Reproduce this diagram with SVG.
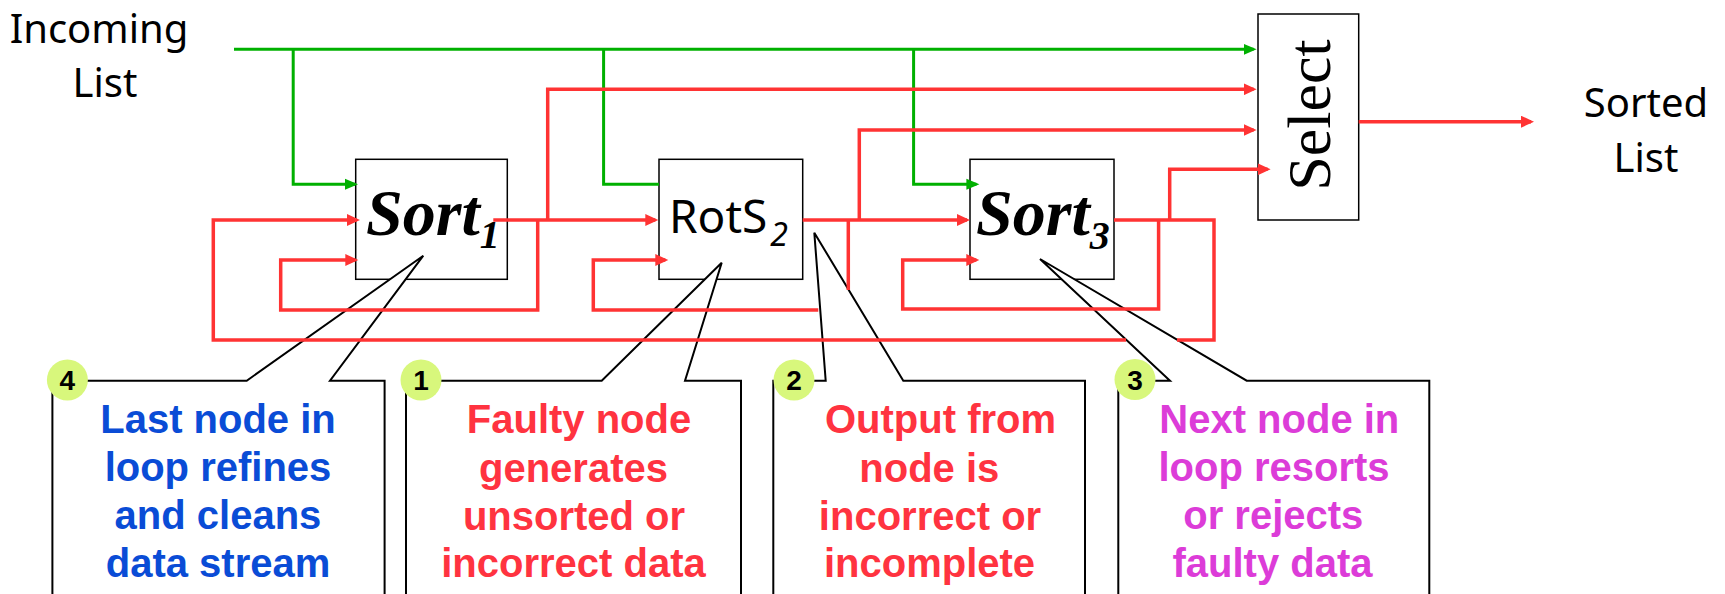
<svg xmlns="http://www.w3.org/2000/svg" width="1725" height="594" viewBox="0 0 1725 594">
  <defs>
    <marker id="arrowRed" markerUnits="userSpaceOnUse" markerWidth="14" markerHeight="12" refX="10" refY="6" orient="auto">
      <path d="M0,0 L13,6 L0,12 z" fill="#ff3333"/>
    </marker>
    <marker id="arrowGreen" markerUnits="userSpaceOnUse" markerWidth="14" markerHeight="12" refX="10" refY="6" orient="auto">
      <path d="M0,0.5 L13,6 L0,11.5 z" fill="#00b000"/>
    </marker>
    <style>
      .box { fill: #ffffff; stroke: #000000; stroke-width: 1.5; }
      .hand { font-family: "Noto Sans", "DejaVu Sans", sans-serif; font-size: 40px; fill: #000000; }
      .sortlbl { font-family: "Liberation Serif", "Times New Roman", serif; font-weight: bold; font-style: italic; font-size: 66px; fill: #000000; }
      .rotlbl { font-family: "Noto Sans", "Open Sans", sans-serif; font-size: 46px; fill: #000000; }
      .sellbl { font-family: "Liberation Serif", "Times New Roman", serif; font-size: 62px; fill: #000000; }
      .callout { fill: #ffffff; stroke: #000000; stroke-width: 2; stroke-linejoin: miter; }
      .note { font-family: "Liberation Sans", Arial, sans-serif; font-weight: bold; font-size: 40px; text-anchor: middle; }
      .badge { fill: #d8f77c; }
      .badgenum { font-family: "Liberation Sans", Arial, sans-serif; font-weight: bold; font-size: 28px; fill: #000000; text-anchor: middle; }
      .green { fill: none; stroke: #00b000; stroke-width: 3; }
      .red { fill: none; stroke: #ff3333; stroke-width: 3.5; }
      .blue { fill: #0a4cd6; }
      .redtxt { fill: #ff3340; }
      .magenta { fill: #dc3cd8; }
    </style>
  </defs>

  <!-- free-standing labels -->
  <g id="label-incoming">
    <text class="hand" x="99" y="42.7" text-anchor="middle">Incoming</text>
    <text class="hand" x="105" y="97.3" text-anchor="middle">List</text>
  </g>
  <g id="label-sorted">
    <text class="hand" x="1646" y="116.7" text-anchor="middle">Sorted</text>
    <text class="hand" x="1646" y="171.7" text-anchor="middle">List</text>
  </g>

  <!-- processing nodes -->
  <g id="node-sort1">
    <rect class="box" x="355.7" y="159.3" width="151.6" height="120"/>
    <text class="sortlbl" x="366" y="235">Sort<tspan font-size="40" dy="13">1</tspan></text>
  </g>
  <g id="node-rots2">
    <rect class="box" x="659" y="159.3" width="143.7" height="120"/>
    <text class="rotlbl" x="669" y="233.3">RotS<tspan font-size="32" font-style="italic" dx="3" dy="12.7">2</tspan></text>
  </g>
  <g id="node-sort3">
    <rect class="box" x="970" y="159.3" width="144" height="120"/>
    <text class="sortlbl" x="976" y="235">Sort<tspan font-size="40" dy="14">3</tspan></text>
  </g>
  <g id="node-select">
    <rect class="box" x="1258" y="14" width="100.7" height="206"/>
    <text class="sellbl" transform="translate(1330,115) rotate(-90)" text-anchor="middle">Select</text>
  </g>

  <!-- annotation callouts -->
  <g id="callout-4">
    <path class="callout" d="M52.4,600 V380.7 H246.7 L423.3,255.7 L330,380.7 H384.6 V600"/>
    <circle class="badge" cx="67.4" cy="380" r="20.5"/>
    <text class="badgenum" x="67.4" y="390">4</text>
    <text class="note blue" x="218" y="432.7">Last node in</text>
    <text class="note blue" x="218" y="480.5">loop refines</text>
    <text class="note blue" x="218" y="528.5">and cleans</text>
    <text class="note blue" x="218" y="576.7">data stream</text>
  </g>
  <g id="callout-1">
    <path class="callout" d="M406,600 V380.7 H601.7 L721.7,262.7 L685,380.7 H741 V600"/>
    <circle class="badge" cx="421" cy="380" r="20.5"/>
    <text class="badgenum" x="421" y="390">1</text>
    <text class="note redtxt" x="579" y="433.3">Faulty node</text>
    <text class="note redtxt" x="573.5" y="481.5">generates</text>
    <text class="note redtxt" x="574" y="529.5">unsorted or</text>
    <text class="note redtxt" x="573.5" y="576.7">incorrect data</text>
  </g>
  <g id="callout-2">
    <path class="callout" d="M773.3,600 V380.7 H825.7 L814.3,232.7 L903.3,380.7 H1085 V600"/>
    <circle class="badge" cx="794" cy="380" r="20.5"/>
    <text class="badgenum" x="794" y="390">2</text>
    <text class="note redtxt" x="940.5" y="433.3">Output from</text>
    <text class="note redtxt" x="929.3" y="481.5">node is</text>
    <text class="note redtxt" x="930" y="529.5">incorrect or</text>
    <text class="note redtxt" x="929.5" y="576.7">incomplete</text>
  </g>
  <g id="callout-3">
    <path class="callout" d="M1118.3,600 V380.7 H1170 L1040,259 L1246.7,380.7 H1429.3 V600"/>
    <circle class="badge" cx="1135" cy="379.5" r="20.5"/>
    <text class="badgenum" x="1135" y="389.5">3</text>
    <text class="note magenta" x="1279.3" y="432.7">Next node in</text>
    <text class="note magenta" x="1274" y="480.5">loop resorts</text>
    <text class="note magenta" x="1273.3" y="528.5">or rejects</text>
    <text class="note magenta" x="1272.5" y="576.7">faulty data</text>
  </g>

  <!-- data-flow connectors -->
  <g id="connectors">
    <!-- incoming list fan-out -->
    <path class="green" d="M234,49.3 H1253.6" marker-end="url(#arrowGreen)"/>
    <path class="green" d="M293.2,49.3 V184.3 H355" marker-end="url(#arrowGreen)"/>
    <path class="green" d="M603.6,49.3 V184.3 H659"/>
    <path class="green" d="M913.6,49.3 V184.3 H976.4" marker-end="url(#arrowGreen)"/>

    <!-- Sort1 output -->
    <path class="red" d="M493.3,220 H655.3" marker-end="url(#arrowRed)"/>
    <path class="red" d="M547.7,220 V89.3 H1253.6" marker-end="url(#arrowRed)"/>
    <path class="red" d="M537.7,220 V310 H280.7 V260 H355.3" marker-end="url(#arrowRed)"/>

    <!-- RotS2 output -->
    <path class="red" d="M802.7,220 H967" marker-end="url(#arrowRed)"/>
    <path class="red" d="M859.3,220 V130 H1253.6" marker-end="url(#arrowRed)"/>
    <path class="red" d="M848.3,220 V290"/>
    <path class="red" d="M818.3,310 H593.3 V260 H665.3" marker-end="url(#arrowRed)"/>

    <!-- Sort3 output -->
    <path class="red" d="M1114,220 H1214 V340 H1177"/>
    <path class="red" d="M1126,340 H213.3 V220 H357" marker-end="url(#arrowRed)"/>
    <path class="red" d="M1158.6,220 V309 H902.7 V260 H976.3" marker-end="url(#arrowRed)"/>
    <path class="red" d="M1169.7,220 V169.3 H1267.6" marker-end="url(#arrowRed)"/>

    <!-- Select output -->
    <path class="red" d="M1358.7,121.7 H1531" marker-end="url(#arrowRed)"/>
  </g>
</svg>
